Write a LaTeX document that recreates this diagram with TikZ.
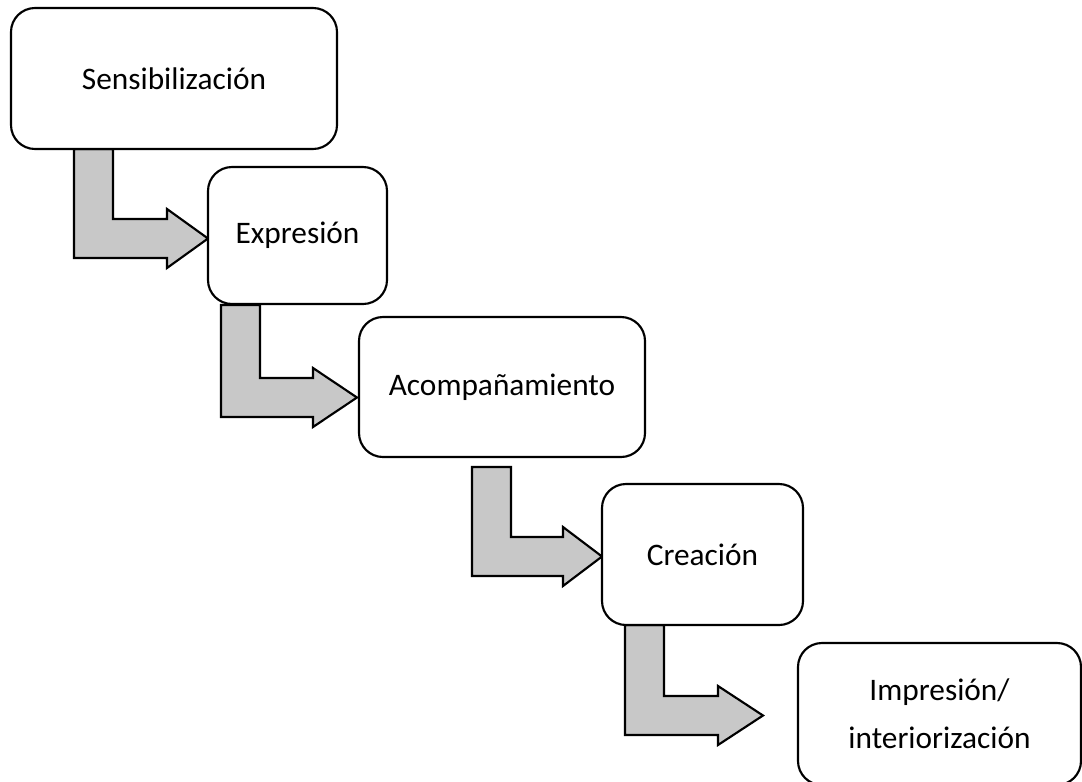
\documentclass[tikz,border=0pt]{standalone}
\usepackage{fontspec}
\setmainfont{Carlito}
\usepackage{xcolor}
\usetikzlibrary{positioning,calc}

\definecolor{grisflecha}{RGB}{200,200,200}

\tikzset{
    etapa/.style={draw, line width=1.6pt, rounded corners=18pt, fill=white,
        align=center, inner sep=0pt, font=\fontsize{23.5}{36}\selectfont},
    flechagris/.style={draw, line width=1.6pt, fill=grisflecha, line join=miter}
}

% left x, top y, bar y, head x, tip x
\newcommand{\flecha}[5]{%
    \draw [flechagris] (#1,#2) -- ++(39,0) |- (#4,#3) -- ++(0,-10)
        -- (#5,{#3+19.5}) -- (#4,{#3+49}) -- ++(0,-10) -| (#1,#2) -- cycle;
}

\begin{document}
\begin{tikzpicture}[x=0.75pt, y=-0.75pt]
    \clip (0,0) rectangle (1082,782);

    % Arrows
    \flecha{74}{149}{219}{167}{208}
    \flecha{221}{305}{378}{313}{357}
    \flecha{472}{467}{537}{563}{602}
    \flecha{625}{625}{696}{718}{763}

    % Steps
    \node [etapa, minimum width=244.5pt, minimum height=105.75pt] (sens) at (174,78.5) {Sensibilización};
    \node [etapa, minimum width=134.25pt, minimum height=102.75pt] (expr) at (297.5,235.5) {Expresión};
    \node [etapa, minimum width=214.5pt, minimum height=105pt] (acom) at (502,387) {Acompañamiento};
    \node [etapa, minimum width=150.75pt, minimum height=105.75pt] (crea) at (702.5,554.5) {Creación};
    \node [etapa, minimum width=212.25pt, minimum height=106.5pt] (impr) at (939.5,714) {Impresión/\\interiorización};
\end{tikzpicture}
\end{document}
